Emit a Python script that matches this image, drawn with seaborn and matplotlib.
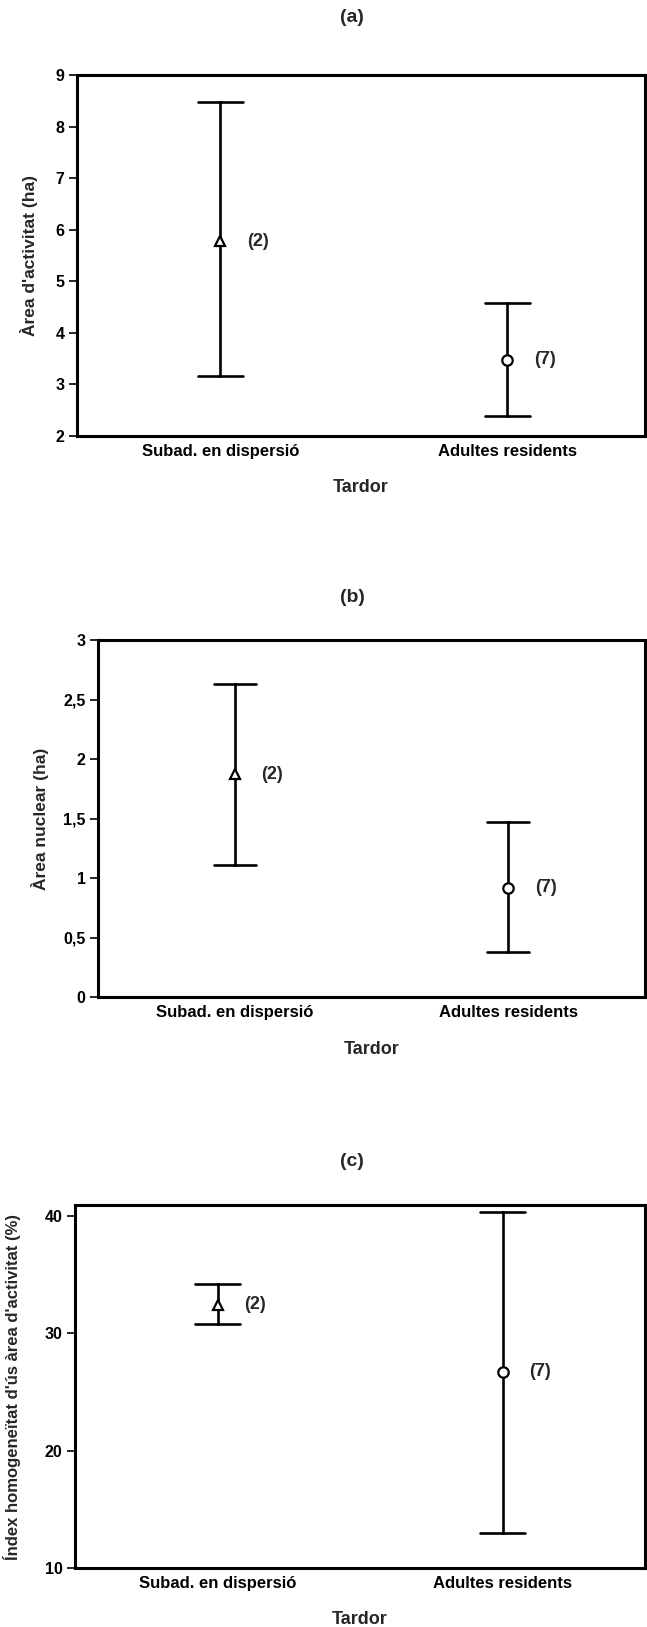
import numpy as np
import pandas as pd
import matplotlib
matplotlib.use("Agg")
import matplotlib.pyplot as plt
import seaborn as sns

# ---------------- data ----------------
categories = ["Subad. en dispersió", "Adultes residents"]
counts = ["(2)", "(7)"]
point_markers = ["^", "o"]

a_mean = [5.78, 3.48]
a_low = [3.16, 2.38]
a_high = [8.48, 4.57]

b_mean = [1.87, 0.92]
b_low = [1.11, 0.38]
b_high = [2.63, 1.47]

c_mean = [32.4, 26.7]
c_low = [30.8, 13.0]
c_high = [34.2, 40.3]

a_ticks = [2, 3, 4, 5, 6, 7, 8, 9]
a_ticklabels = ["2", "3", "4", "5", "6", "7", "8", "9"]
b_ticks = [0, 0.5, 1, 1.5, 2, 2.5, 3]
b_ticklabels = ["0", "0,5", "1", "1,5", "2", "2,5", "3"]
c_ticks = [10, 20, 30, 40]
c_ticklabels = ["10", "20", "30", "40"]

titles = ["(a)", "(b)", "(c)"]
ylabels = ["Àrea d'activitat (ha)", "Àrea nuclear (ha)",
           "Índex homogeneïtat d'ús àrea d'activitat (%)"]
xlabel = "Tardor"

# ---------------- style ----------------
sns.set_style("ticks")
plt.rcParams["font.family"] = ["Liberation Sans", "DejaVu Sans"]
plt.rcParams["axes.edgecolor"] = "black"
plt.rcParams["xtick.color"] = "black"
plt.rcParams["ytick.color"] = "black"

W, H = 647, 1627
fig = plt.figure(figsize=(W / 100, H / 100), dpi=100)


def px_axes(left, right, top, bottom):
    return fig.add_axes([left / W, 1 - bottom / H, (right - left) / W, (bottom - top) / H])


panels = [
    dict(box=(77, 645, 75, 436), mean=a_mean, low=a_low, high=a_high,
         ylim=(2, 9), ticks=a_ticks, ticklabels=a_ticklabels, title_y=18,
         ylab_x=-0.069, ylab_fs=12.5, xlim=(-0.5, 1.48)),
    dict(box=(98, 645, 640, 997), mean=b_mean, low=b_low, high=b_high,
         ylim=(0, 3), ticks=b_ticks, ticklabels=b_ticklabels, title_y=598,
         ylab_x=-0.090, ylab_fs=12.5, xlim=(-0.5, 1.5)),
    dict(box=(75, 645, 1205, 1568), mean=c_mean, low=c_low, high=c_high,
         ylim=(10, 40.9), ticks=c_ticks, ticklabels=c_ticklabels, title_y=1162,
         ylab_x=-0.094, ylab_fs=12, xlim=(-0.5, 1.5)),
]

for i, p in enumerate(panels):
    ax = px_axes(*p["box"])
    # long-form: lower, mean, upper per category -> median = mean, 0-100 pi = range
    rows = []
    for cat, lo, m, hi in zip(categories, p["low"], p["mean"], p["high"]):
        for v in (lo, m, hi):
            rows.append({"cat": cat, "value": v})
    df = pd.DataFrame(rows)
    sns.pointplot(data=df, x="cat", y="value", hue="cat", order=categories,
                  hue_order=categories, estimator="median", errorbar=("pi", 100),
                  palette=["black", "black"], markers=point_markers,
                  linestyles="none", dodge=False, capsize=0.155, legend=False,
                  err_kws={"linewidth": 1.9, "linestyle": "-"},
                  markersize=7.5, markeredgewidth=1.6, ax=ax)
    for ln in ax.lines:
        mk = ln.get_marker()
        if mk not in (None, "", "None", "none"):
            ln.set_markerfacecolor("white")
            ln.set_markeredgecolor("black")
            ln.set_zorder(6)

    for j, (m, lab) in enumerate(zip(p["mean"], counts)):
        ax.annotate(lab, xy=(j, m), xytext=(19, 0), textcoords="offset points",
                    ha="left", va="center", fontsize=13, fontweight="bold")

    ax.set_xlim(*p["xlim"])
    ax.set_ylim(*p["ylim"])
    ax.set_yticks(p["ticks"])
    ax.set_yticklabels(p["ticklabels"], fontsize=11.5, fontweight="bold")
    ax.set_xticks([0, 1])
    ax.set_xticklabels(categories, fontsize=12, fontweight="bold")
    ax.tick_params(axis="x", length=0, pad=6)
    ax.tick_params(axis="y", length=6, width=1.2, pad=3, direction="out")
    for sp in ax.spines.values():
        sp.set_visible(True)
        sp.set_linewidth(2.2)
        sp.set_color("black")

    ax.set_ylabel(ylabels[i], fontsize=p["ylab_fs"], fontweight="bold")
    ax.yaxis.set_label_coords(p["ylab_x"], 0.5)
    ax.set_xlabel(xlabel, fontsize=13, fontweight="bold", va="center")
    box_h = p["box"][3] - p["box"][2]
    ax.xaxis.set_label_coords(0.5, -52 / box_h)

    fig.text(352 / W, 1 - p["title_y"] / H, titles[i], ha="center", va="center",
             fontsize=14, fontweight="bold")

fig.savefig("out.png", dpi=100, facecolor="white")
